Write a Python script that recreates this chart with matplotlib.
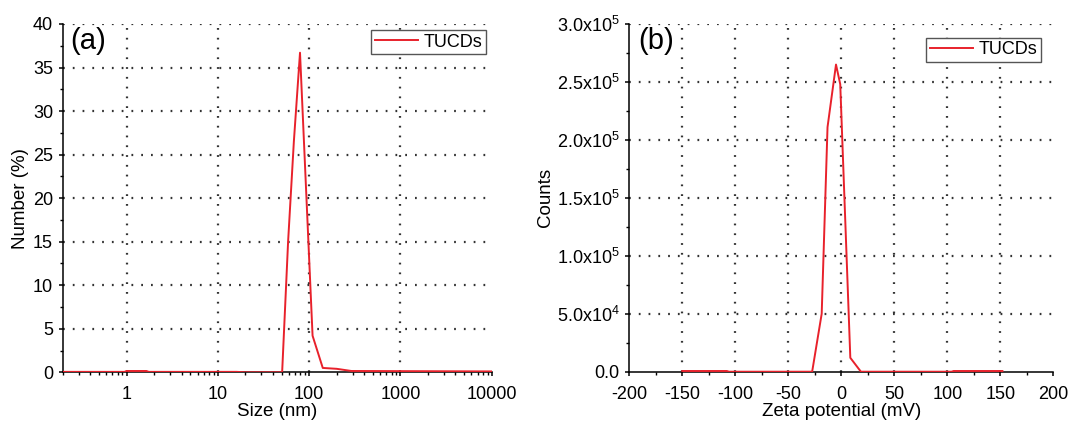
import numpy as np
import matplotlib
matplotlib.use("Agg")
import matplotlib.pyplot as plt
from matplotlib.ticker import LogLocator, MultipleLocator, NullFormatter

plt.rcParams["font.family"] = ["Liberation Sans", "DejaVu Sans"]
plt.rcParams["mathtext.fontset"] = "custom"
plt.rcParams["mathtext.rm"] = "Liberation Sans"
plt.rcParams["mathtext.default"] = "regular"
plt.rcParams["axes.unicode_minus"] = False

# ── data ────────────────────────────────────────────────────────────────────
size_nm = [0.2, 0.3, 0.95, 1.0, 1.65, 1.75, 16, 20, 50.6, 58.8, 68, 79.4,
           109, 141, 200, 290, 10000]
number_pct = [0.05, 0.05, 0.05, 0.15, 0.15, 0.05, 0.05, 0, 0, 15, 26.5, 36.7,
              4.2, 0.5, 0.4, 0.15, 0.1]

zeta_mv = [-150, -108, -106, -27.5, -18.5, -13, -5, -1, 8.5, 18.5, 104, 106, 152]
counts = [600, 600, 0, 0, 50000, 211000, 265000, 248000, 12000, 0, 0, 600, 600]

size_ticks = [1, 10, 100, 1000, 10000]
size_ticklabels = ["1", "10", "100", "1000", "10000"]
number_ticks = [0, 5, 10, 15, 20, 25, 30, 35, 40]

zeta_ticks = [-200, -150, -100, -50, 0, 50, 100, 150, 200]
count_ticks = [0, 50000, 100000, 150000, 200000, 250000, 300000]
count_ticklabels = ["0.0", "5.0x10$^{4}$", "1.0x10$^{5}$", "1.5x10$^{5}$",
                    "2.0x10$^{5}$", "2.5x10$^{5}$", "3.0x10$^{5}$"]

RED = "#e8212b"
GRID = dict(color="#333333", linestyle=(0, (0.8, 3.6)), linewidth=1.6, zorder=0)
FS = 13
LFS = 13.5

fig = plt.figure(figsize=(10.69, 4.22), dpi=100)
ax1 = fig.add_axes([0.0587, 0.1178, 0.4013, 0.8254])
ax2 = fig.add_axes([0.5887, 0.1192, 0.3966, 0.8240])

for ax in (ax1, ax2):
    for s in ("top", "right"):
        ax.spines[s].set_visible(False)
    for s in ("left", "bottom"):
        ax.spines[s].set_linewidth(1.1)
    ax.tick_params(which="major", direction="out", length=3, width=1.1,
                   labelsize=FS, pad=4)
    ax.tick_params(axis="x", which="major", pad=7)
    ax.tick_params(which="minor", direction="out", length=2, width=1.0)

# ── (a) size distribution ───────────────────────────────────────────────────
ax1.set_xscale("log")
ax1.set_xlim(0.2, 10000)
ax1.set_ylim(0, 40)
for t in size_ticks[:-1]:
    ax1.axvline(t, **GRID)
for t in number_ticks[1:]:
    ax1.axhline(t, **GRID)
ax1.plot(size_nm, number_pct, color=RED, linewidth=1.4, label="TUCDs", zorder=3)
ax1.set_xticks(size_ticks)
ax1.set_xticklabels(size_ticklabels)
ax1.xaxis.set_minor_locator(LogLocator(base=10, subs=np.arange(2, 10), numticks=20))
ax1.xaxis.set_minor_formatter(NullFormatter())
ax1.set_yticks(number_ticks)
ax1.yaxis.set_minor_locator(MultipleLocator(2.5))
ax1.set_xlabel("Size (nm)", fontsize=LFS, labelpad=0)
ax1.set_ylabel("Number (%)", fontsize=LFS, labelpad=3)
ax1.text(0.018, 0.99, "(a)", transform=ax1.transAxes, fontsize=21,
         va="top", ha="left")
leg1 = ax1.legend(loc="upper right", bbox_to_anchor=(0.987, 0.983), fontsize=FS,
                  frameon=True, fancybox=False, framealpha=1, handlelength=2.4,
                  borderpad=0.2, handletextpad=0.3, borderaxespad=0)
leg1.get_frame().set_edgecolor("#555555")
leg1.get_frame().set_linewidth(1.0)

# ── (b) zeta potential ──────────────────────────────────────────────────────
ax2.set_xlim(-200, 200)
ax2.set_ylim(0, 300000)
for t in zeta_ticks[1:-1]:
    ax2.axvline(t, **GRID)
for t in count_ticks[1:]:
    ax2.axhline(t, **GRID)
ax2.plot(zeta_mv, counts, color=RED, linewidth=1.4, label="TUCDs", zorder=3)
ax2.set_xticks(zeta_ticks)
ax2.xaxis.set_minor_locator(MultipleLocator(25))
ax2.set_yticks(count_ticks)
ax2.set_yticklabels(count_ticklabels)
ax2.yaxis.set_minor_locator(MultipleLocator(25000))
ax2.set_xlabel("Zeta potential (mV)", fontsize=LFS, labelpad=0)
ax2.set_ylabel("Counts", fontsize=LFS, labelpad=2)
ax2.text(0.022, 0.99, "(b)", transform=ax2.transAxes, fontsize=21,
         va="top", ha="left")
leg2 = ax2.legend(loc="upper right", bbox_to_anchor=(0.971, 0.96), fontsize=FS,
                  frameon=True, fancybox=False, framealpha=1, handlelength=2.4,
                  borderpad=0.2, handletextpad=0.3, borderaxespad=0)
leg2.get_frame().set_edgecolor("#555555")
leg2.get_frame().set_linewidth(1.0)

fig.savefig("out.png", dpi=100)
